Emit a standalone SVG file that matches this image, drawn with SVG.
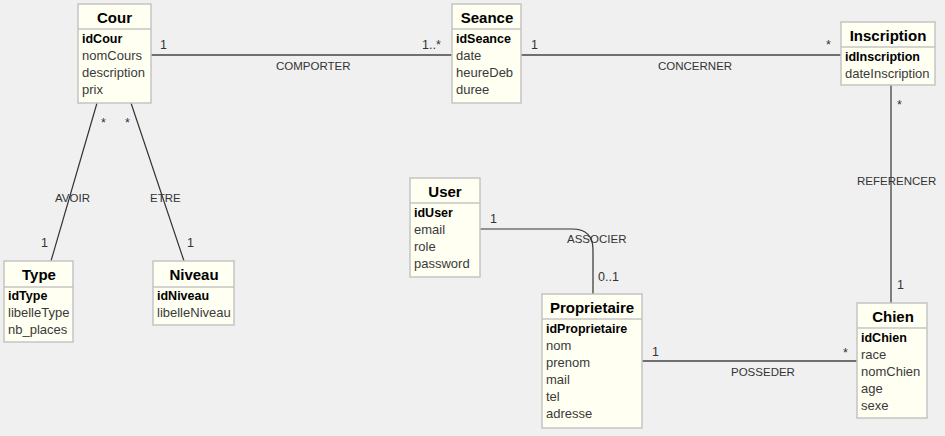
<svg xmlns="http://www.w3.org/2000/svg" width="945" height="436" viewBox="0 0 945 436">
<defs>
<style>
.box{fill:#fffff2;stroke:#c4c4c4;stroke-width:1.5}
.sep{stroke:#c4c4c4;stroke-width:1.5}
.title{font-family:"Liberation Sans",Arial,sans-serif;font-size:15px;font-weight:bold;fill:#000;text-anchor:middle}
.id{font-family:"Liberation Sans",Arial,sans-serif;font-size:12.5px;font-weight:bold;fill:#000}
.attr{font-family:"Liberation Sans",Arial,sans-serif;font-size:13px;fill:#3a3a3a}
.lbl{font-family:"Liberation Sans",Arial,sans-serif;font-size:11.5px;fill:#333}
.mult{font-family:"Liberation Sans",Arial,sans-serif;font-size:12.5px;fill:#333}
.thick{stroke:#707070;stroke-width:2.2;fill:none}
.thin{stroke:#333;stroke-width:1.2;fill:none}
</style>
</defs>
<rect x="0" y="0" width="945" height="436" fill="#f0f0f0"/>

<g id="connectors">
<line class="thick" x1="151" y1="55" x2="452" y2="55"/>
<line class="thick" x1="521" y1="55" x2="841" y2="55"/>
<line class="thick" x1="642" y1="361" x2="857" y2="361"/>
<line class="thin" x1="97" y1="103" x2="51" y2="261"/>
<line class="thin" x1="131" y1="103" x2="184" y2="261"/>
<path class="thin" d="M480,229 H572 Q593,229 593,250 V294"/>
<text class="lbl" x="276" y="70">COMPORTER</text>
<text class="mult" x="160" y="49">1</text>
<text class="mult" x="422" y="49">1..*</text>
<text class="lbl" x="658" y="70">CONCERNER</text>
<text class="mult" x="531" y="49">1</text>
<text class="mult" x="826" y="49">*</text>
<text class="lbl" x="857" y="185">REFERENCER</text>
<line class="thin" x1="891" y1="85" x2="891" y2="303"/>
<text class="mult" x="897" y="109">*</text>
<text class="mult" x="897" y="289">1</text>
<text class="lbl" x="731" y="376">POSSEDER</text>
<text class="mult" x="652" y="356">1</text>
<text class="mult" x="843" y="357">*</text>
<text class="lbl" x="55" y="202">AVOIR</text>
<text class="mult" x="101" y="127">*</text>
<text class="mult" x="41" y="247">1</text>
<text class="lbl" x="150" y="202">ETRE</text>
<text class="mult" x="125" y="127">*</text>
<text class="mult" x="187" y="247">1</text>
<text class="lbl" x="567" y="243">ASSOCIER</text>
<text class="mult" x="490" y="223">1</text>
<text class="mult" x="598" y="281">0..1</text>
</g>

<g id="Cour">
<rect class="box" x="78" y="4" width="73" height="99"/>
<line class="sep" x1="78" y1="29" x2="151" y2="29"/>
<text class="title" x="114.5" y="23">Cour</text>
<text class="id" x="82" y="43">idCour</text>
<text class="attr" x="82" y="60">nomCours</text>
<text class="attr" x="82" y="77">description</text>
<text class="attr" x="82" y="94">prix</text>
</g>

<g id="Seance">
<rect class="box" x="452" y="4" width="69" height="99"/>
<line class="sep" x1="452" y1="29" x2="521" y2="29"/>
<text class="title" x="487" y="23">Seance</text>
<text class="id" x="456" y="43">idSeance</text>
<text class="attr" x="456" y="60">date</text>
<text class="attr" x="456" y="77">heureDeb</text>
<text class="attr" x="456" y="94">duree</text>
</g>

<g id="Inscription">
<rect class="box" x="841" y="22" width="94" height="63"/>
<line class="sep" x1="841" y1="47" x2="935" y2="47"/>
<text class="title" x="888" y="41">Inscription</text>
<text class="id" x="845" y="61">idInscription</text>
<text class="attr" x="845" y="78">dateInscription</text>
</g>

<g id="User">
<rect class="box" x="410" y="178" width="70" height="99"/>
<line class="sep" x1="410" y1="203" x2="480" y2="203"/>
<text class="title" x="445" y="197">User</text>
<text class="id" x="414" y="217">idUser</text>
<text class="attr" x="414" y="234">email</text>
<text class="attr" x="414" y="251">role</text>
<text class="attr" x="414" y="268">password</text>
</g>

<g id="Proprietaire">
<rect class="box" x="542" y="294" width="100" height="134"/>
<line class="sep" x1="542" y1="319" x2="642" y2="319"/>
<text class="title" x="592" y="313">Proprietaire</text>
<text class="id" x="546" y="333">idProprietaire</text>
<text class="attr" x="546" y="350">nom</text>
<text class="attr" x="546" y="367">prenom</text>
<text class="attr" x="546" y="384">mail</text>
<text class="attr" x="546" y="401">tel</text>
<text class="attr" x="546" y="418">adresse</text>
</g>

<g id="Chien">
<rect class="box" x="857" y="303" width="70" height="115"/>
<line class="sep" x1="857" y1="328" x2="927" y2="328"/>
<text class="title" x="893" y="322">Chien</text>
<text class="id" x="861" y="342">idChien</text>
<text class="attr" x="861" y="359">race</text>
<text class="attr" x="861" y="376">nomChien</text>
<text class="attr" x="861" y="393">age</text>
<text class="attr" x="861" y="410">sexe</text>
</g>

<g id="Type">
<rect class="box" x="4" y="261" width="69" height="81"/>
<line class="sep" x1="4" y1="287" x2="73" y2="287"/>
<text class="title" x="39" y="280">Type</text>
<text class="id" x="8" y="300">idType</text>
<text class="attr" x="8" y="317">libelleType</text>
<text class="attr" x="8" y="334">nb_places</text>
</g>

<g id="Niveau">
<rect class="box" x="153" y="261" width="81" height="64"/>
<line class="sep" x1="153" y1="287" x2="234" y2="287"/>
<text class="title" x="194" y="280">Niveau</text>
<text class="id" x="157" y="300">idNiveau</text>
<text class="attr" x="157" y="317">libelleNiveau</text>
</g>
</svg>
